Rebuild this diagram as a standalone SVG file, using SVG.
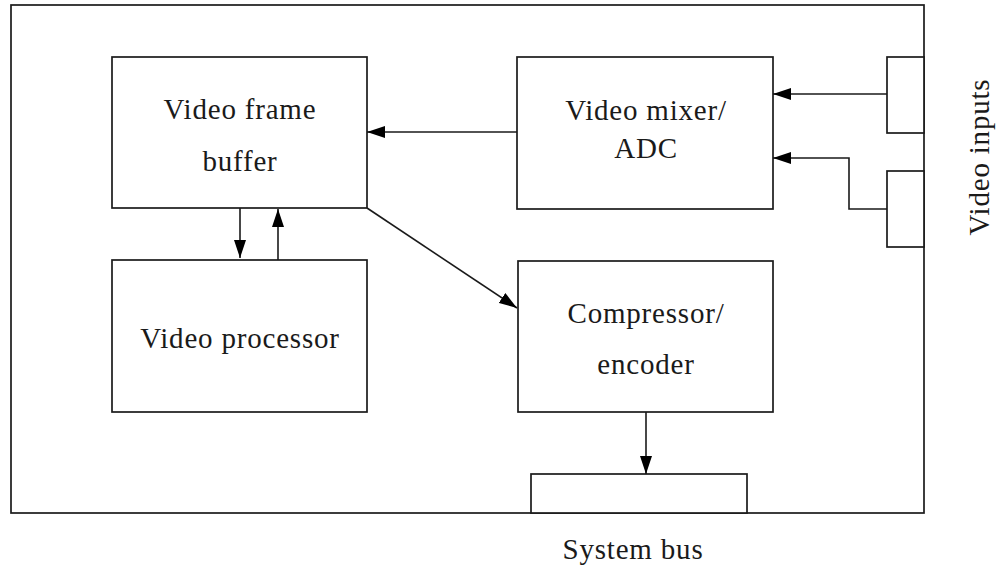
<svg xmlns="http://www.w3.org/2000/svg" width="997" height="571" viewBox="0 0 997 571">
<style>
.box{fill:#fff;stroke:#1a1a1a;stroke-width:1.7}
.ln{fill:none;stroke:#1a1a1a;stroke-width:1.6}
.t{font-size:29px;fill:#1a1a1a;text-anchor:middle;letter-spacing:0.8px}
</style>
<defs>
<marker id="ah" markerWidth="18" markerHeight="12" refX="18" refY="6" orient="auto" markerUnits="userSpaceOnUse">
<path d="M0,0 L18,6 L0,12 Z" fill="#000"/>
</marker>
</defs>
<rect width="997" height="571" fill="#fff"/>
<g font-family="'Liberation Serif', 'Times New Roman', 'DejaVu Serif', serif">
<g id="board"><rect class="box" x="11" y="5" width="913" height="508"/></g>
<g id="frame-buffer"><rect class="box" x="112" y="57" width="255" height="151"/>
<text class="t" x="240" y="119">Video frame</text><text class="t" x="240" y="171">buffer</text></g>
<g id="video-processor"><rect class="box" x="112" y="260" width="255" height="152"/>
<text class="t" x="240" y="348">Video processor</text></g>
<g id="mixer"><rect class="box" x="517" y="57" width="256" height="152"/>
<text class="t" x="646" y="120">Video mixer/</text><text class="t" x="646" y="158">ADC</text></g>
<g id="compressor"><rect class="box" x="518" y="261" width="255" height="151"/>
<text class="t" x="646" y="323">Compressor/</text><text class="t" x="646" y="374">encoder</text></g>
<g id="input1"><rect class="box" x="887" y="57" width="37" height="76"/></g>
<g id="input2"><rect class="box" x="887" y="171" width="37" height="76"/></g>
<g id="bus-connector"><rect class="box" x="531" y="474" width="216" height="39"/></g>
<g id="labels">
<text class="t" x="633" y="559">System bus</text>
<text class="t" transform="translate(989,157) rotate(-90)">Video inputs</text>
</g>
</g>
<g id="connectors">
<line class="ln" x1="517" y1="132" x2="367" y2="132" marker-end="url(#ah)"/>
<line class="ln" x1="887" y1="94" x2="773" y2="94" marker-end="url(#ah)"/>
<polyline class="ln" points="887,209 849,209 849,158 773,158" marker-end="url(#ah)"/>
<line class="ln" x1="240" y1="208" x2="240" y2="258" marker-end="url(#ah)"/>
<line class="ln" x1="278" y1="260" x2="278" y2="209" marker-end="url(#ah)"/>
<line class="ln" x1="367" y1="208" x2="517" y2="308" marker-end="url(#ah)" stroke="#444"/>
<line class="ln" x1="646" y1="412" x2="646" y2="474" marker-end="url(#ah)"/>
</g>
</svg>
